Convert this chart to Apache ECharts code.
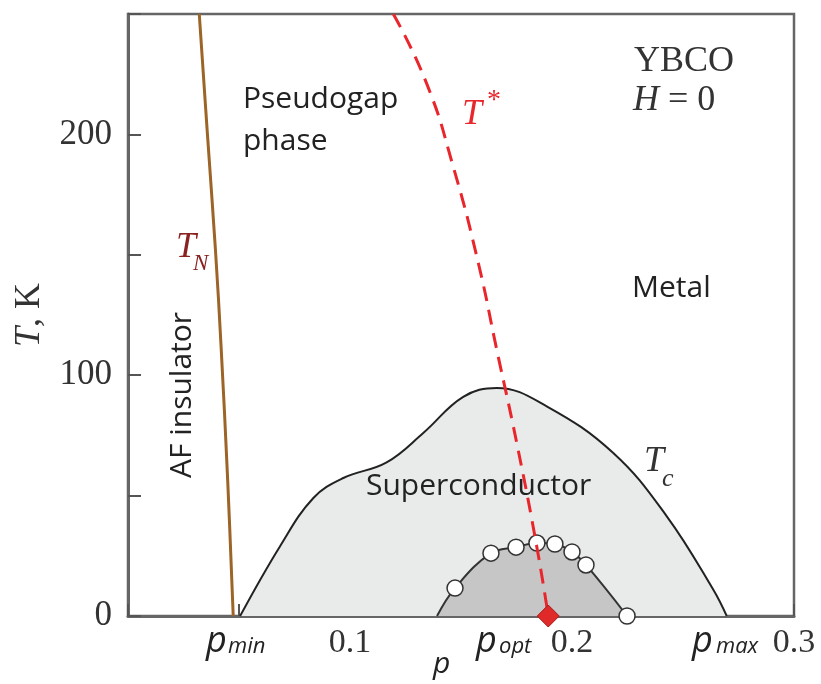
<!DOCTYPE html>
<html>
<head>
<meta charset="utf-8">
<script src="https://cdn.jsdelivr.net/npm/echarts@6/dist/echarts.min.js"></script>
<style>
  html, body { margin: 0; padding: 0; background: #ffffff; }
  #chart { width: 821px; height: 684px; }
</style>
</head>
<body>
<div id="chart"></div>
<script>
// Superconducting dome T_c(p)
const tcP = [0.0505, 0.0685, 0.0835, 0.0970, 0.1165, 0.1330, 0.1510, 0.1661, 0.1886, 0.2186, 0.2427, 0.2636, 0.2697];
const tcT = [0, 29.0, 49.0, 57.3, 63.8, 76.0, 91.0, 94.7, 87.1, 67.7, 41.4, 11.0, 0];

// Inner dome (line start, then measured points)
const domeP = [0.1392, 0.1473, 0.1635, 0.1748, 0.1842, 0.1923, 0.2000, 0.2063, 0.2248];
const domeT = [0, 11.6, 26.1, 28.6, 30.3, 29.9, 26.6, 21.2, 0];

// Neel temperature T_N(p)
const tnP = [0.0321, 0.0358, 0.0394, 0.0419, 0.0449, 0.0474];
const tnT = [250, 199.8, 151.9, 112.4, 56.4, 0];

// Pseudogap temperature T*(p)
const tsP = [0.1195, 0.1345, 0.1465, 0.1578, 0.1661, 0.1751, 0.1841, 0.1893];
const tsT = [250, 221.2, 186.6, 146.6, 110.6, 71.9, 29.0, 0];

// Critical point at T = 0
const critP = [0.1893];
const critT = [0];

// Axis tick labels
const xTickLabels = ['0.1', '0.2', '0.3'];
const yTickLabels = ['0', '100', '200'];

const zip = (a, b) => a.map((v, i) => [v, b[i]]);

const serif = 'Liberation Serif';
const sans = 'Open Sans';

const chart = echarts.init(document.getElementById('chart'), null, { renderer: 'canvas' });

const txt = (x, y, text, font, size, color, extra) => Object.assign({
  type: 'text', x: x, y: y, z: 100,
  style: Object.assign({
    text: text, fontFamily: font, fontSize: size, fill: color,
    align: 'left', verticalAlign: 'middle'
  }, extra || {})
});

chart.setOption({
  animation: false,
  backgroundColor: '#ffffff',
  grid: {
    left: 128, right: 27, top: 14, bottom: 68,
    show: true, borderColor: '#666666', borderWidth: 2.5, backgroundColor: 'transparent'
  },
  xAxis: {
    type: 'value', min: 0, max: 0.3, interval: 0.05,
    axisLine: { show: true, lineStyle: { color: '#666666', width: 3 } },
    axisTick: { show: true, inside: true, length: 12, lineStyle: { color: '#555555', width: 2 } },
    splitLine: { show: false },
    axisLabel: {
      margin: 10, fontFamily: serif, fontSize: 34, color: '#333333',
      formatter: v => {
        const s = v.toFixed(1);
        return (Math.abs(v * 10 - Math.round(v * 10)) < 1e-6 && xTickLabels.includes(s)) ? s : '';
      }
    }
  },
  yAxis: {
    type: 'value', min: 0, max: 250, interval: 50,
    name: '{i|T}, K',
    nameLocation: 'middle', nameRotate: 90, nameGap: 80,
    nameTextStyle: {
      fontFamily: serif, fontSize: 36, color: '#333333',
      rich: { i: { fontFamily: serif, fontSize: 36, fontStyle: 'italic', color: '#333333' } }
    },
    axisLine: { show: true, lineStyle: { color: '#666666', width: 3 } },
    axisTick: { show: true, inside: true, length: 13, lineStyle: { color: '#555555', width: 2 } },
    splitLine: { show: false },
    axisLabel: {
      margin: 16, fontFamily: serif, fontSize: 35, color: '#333333',
      formatter: v => yTickLabels.includes(String(v)) ? String(v) : ''
    }
  },
  series: [
    {
      name: 'Tc', type: 'line', data: zip(tcP, tcT), smooth: 0.4, symbol: 'none', z: 2,
      lineStyle: { color: '#222222', width: 2 },
      areaStyle: { color: '#e9eaea', opacity: 1 }
    },
    {
      name: 'dome', type: 'line', data: zip(domeP, domeT), smooth: 0.4, symbol: 'none', z: 3,
      lineStyle: { color: '#333333', width: 2 },
      areaStyle: { color: '#c6c6c6', opacity: 1 }
    },
    {
      name: 'dome points', type: 'scatter', data: zip(domeP, domeT).slice(1), clip: false, z: 5,
      symbol: 'circle', symbolSize: 16,
      itemStyle: { color: '#ffffff', borderColor: '#333333', borderWidth: 1.5, opacity: 1 }
    },
    {
      name: 'TN', type: 'line', data: zip(tnP, tnT), smooth: 0.4, symbol: 'none', z: 4,
      lineStyle: { color: '#9c6426', width: 3 }
    },
    {
      name: 'Tstar', type: 'line', data: zip(tsP, tsT), smooth: 0.5, symbol: 'none', z: 6,
      lineStyle: { color: '#e8262b', width: 3, type: [15, 9] }
    },
    {
      name: 'critical', type: 'scatter', data: zip(critP, critT), clip: false, z: 7,
      symbol: 'diamond', symbolSize: [22, 22],
      itemStyle: { color: '#e02a2a', borderColor: '#a81818', borderWidth: 1, opacity: 1 }
    }
  ],
  graphic: [
    txt(243, 99, 'Pseudogap', sans, 30, '#222222'),
    txt(243, 141, 'phase', sans, 30, '#222222'),
    txt(632, 288, 'Metal', sans, 30, '#222222'),
    txt(366, 486, 'Superconductor', sans, 30, '#222222'),
    { type: 'text', x: 182, y: 395, rotation: Math.PI / 2, z: 100,
      style: { text: 'AF insulator', fontFamily: sans, fontSize: 30, fill: '#222222', align: 'center', verticalAlign: 'middle' } },
    txt(634, 62, 'YBCO', serif, 36, '#333333'),
    { type: 'text', x: 633, y: 101, z: 100,
      style: {
        text: '{i|H}{n| = 0}', align: 'left', verticalAlign: 'middle',
        rich: {
          i: { fontFamily: serif, fontSize: 36, fontStyle: 'italic', fill: '#333333' },
          n: { fontFamily: serif, fontSize: 36, fill: '#333333' }
        }
      } },
    // T* label
    txt(462, 115, 'T', serif, 36, '#e8262b', { fontStyle: 'italic' }),
    txt(487, 101, '*', serif, 28, '#e8262b'),
    // T_N label
    txt(176, 248, 'T', serif, 36, '#8b2222', { fontStyle: 'italic' }),
    txt(193, 264, 'N', serif, 23, '#8b2222', { fontStyle: 'italic' }),
    // T_c label
    txt(644, 462, 'T', serif, 36, '#333333', { fontStyle: 'italic' }),
    txt(662, 479, 'c', serif, 26, '#333333', { fontStyle: 'italic' }),
    // special doping labels under the axis
    txt(206, 642, 'p', sans, 36, '#222222', { fontStyle: 'italic' }),
    txt(228, 647, 'min', sans, 22, '#222222', { fontStyle: 'italic' }),
    txt(476, 642, 'p', sans, 36, '#222222', { fontStyle: 'italic' }),
    txt(499, 647, 'opt', sans, 22, '#222222', { fontStyle: 'italic' }),
    txt(692, 642, 'p', sans, 36, '#222222', { fontStyle: 'italic' }),
    txt(716, 647, 'max', sans, 22, '#222222', { fontStyle: 'italic' }),
    // horizontal axis name
    txt(433, 664, 'p', sans, 30, '#222222', { fontStyle: 'italic' })
  ]
});
</script>
</body>
</html>
